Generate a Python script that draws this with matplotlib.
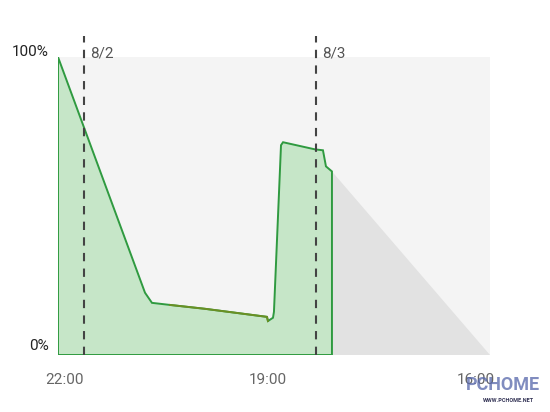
import matplotlib
matplotlib.use("Agg")
import matplotlib.pyplot as plt

plt.rcParams["font.family"] = ["Roboto", "DejaVu Sans"]

# hours relative to midnight 8/2, battery level in percent
hours = [-2.69, 6.31, 7.03, 8.90, 12.52, 18.93, 19.03, 19.55, 19.65, 20.38, 20.59, 23.90, 24.72, 25.03, 25.65]
level = [100, 20.9, 17.5, 16.8, 15.5, 12.8, 11.4, 12.5, 14.5, 70.4, 71.4, 69.0, 68.7, 63.3, 61.6]

# projected drain
pred_hours = [25.65, 42.0]
pred_level = [61.6, 0]

day_marks = [0, 24]
day_labels = ["8/2", "8/3"]

tick_hours = [-2, 19, 40.5]
tick_labels = ["22:00", "19:00", "16:00"]

y_labels = ["0%", "100%"]
y_label_pos = [3.0, 101.7]  # drawn a bit above their levels, like the phone screen

x_min, x_max = -2.69, 42.0

fig = plt.figure(figsize=(5.5, 4.12), dpi=100)
ax = fig.add_axes([58 / 550, 1 - 355 / 412, 432 / 550, 298 / 412])
ax.set_xlim(x_min, x_max)
ax.set_ylim(0, 100)
ax.set_facecolor("#f4f4f4")
for s in ax.spines.values():
    s.set_visible(False)

# prediction triangle
ax.fill(pred_hours + [pred_hours[0]], pred_level + [0], color="#e2e2e2", lw=0)

# battery area, outlined
poly_x = hours + [hours[-1], hours[0]]
poly_y = level + [0, 0]
ax.fill(poly_x, poly_y, facecolor="#c6e6c8", edgecolor="#2f9a40", lw=1.4, zorder=3)
ax.plot(hours[3:7], level[3:7], color="#6b8f24", lw=1.4, zorder=4)

# day separators
for d, lab in zip(day_marks, day_labels):
    ax.plot([d, d], [0, 107], color="#444444", lw=1.5, ls=(0, (4, 3.5)),
            clip_on=False, zorder=5)
    ax.text(d + 0.65, 101.2, lab, fontsize=11, color="#555555",
            va="center", ha="left", clip_on=False)

ax.set_yticks([])
for lab, y in zip(y_labels, y_label_pos):
    ax.text(-0.021, y, lab, transform=ax.get_yaxis_transform(), fontsize=11,
            color="#222222", ha="right", va="center", clip_on=False)

ax.set_xticks(tick_hours)
ax.set_xticklabels(tick_labels, fontsize=11, color="#666666")
ax.tick_params(length=0)
ax.tick_params(axis="x", pad=13)

# watermark
fig.text(0.915, 0.066, "PCHOME", fontsize=13, fontweight="bold", color="#5566aa",
         ha="center", va="center", alpha=0.75)
fig.text(0.925, 0.029, "WWW.PCHOME.NET", fontsize=4, fontweight="bold",
         color="#333355", ha="center", va="center")

fig.savefig("out.png", dpi=100)
